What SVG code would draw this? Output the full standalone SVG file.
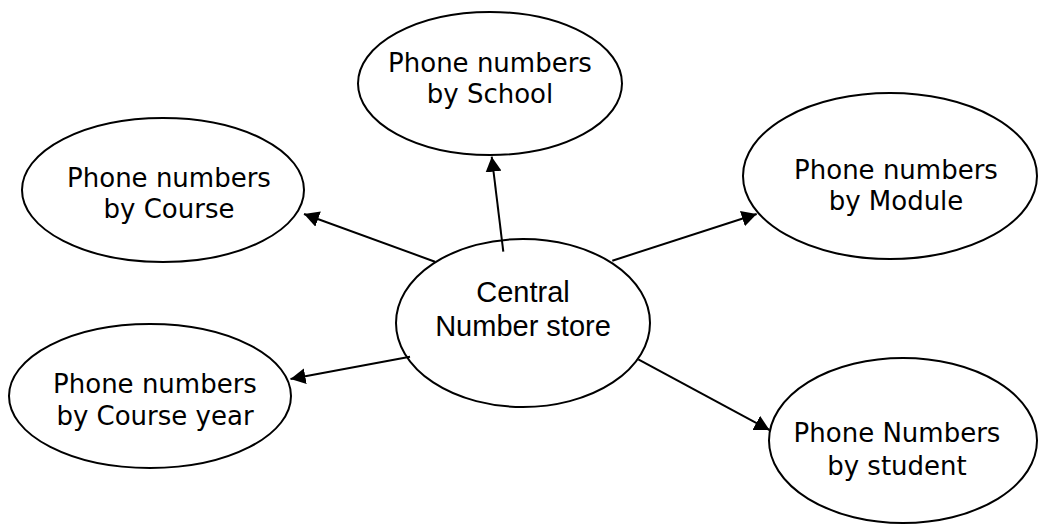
<svg xmlns="http://www.w3.org/2000/svg" width="1039" height="524" viewBox="0 0 1039 524">
<style>
.node ellipse{fill:#fff;stroke:#000;stroke-width:2}
.lbl{font-family:"DejaVu Sans",Verdana,sans-serif;font-size:26px;fill:#000;text-anchor:middle}
.clbl{font-family:"Liberation Sans",Arial,sans-serif;font-size:29px;fill:#000;text-anchor:middle}
.conn line{stroke:#000;stroke-width:2;marker-end:url(#arr)}
</style>
<defs>
<marker id="arr" viewBox="0 0 15 16" refX="15" refY="8" markerWidth="15" markerHeight="16" markerUnits="userSpaceOnUse" orient="auto">
<path d="M0,0 L15,8 L0,16 z" fill="#000"/>
</marker>
</defs>
<rect width="1039" height="524" fill="#fff"/>
<g id="school" class="node">
<ellipse cx="490" cy="83.5" rx="132" ry="71.5"/>
<text class="lbl" x="490" y="72">Phone numbers</text>
<text class="lbl" x="490" y="103">by School</text>
</g>
<g id="course" class="node">
<ellipse cx="163" cy="190" rx="141" ry="72"/>
<text class="lbl" x="169" y="187">Phone numbers</text>
<text class="lbl" x="169" y="218">by Course</text>
</g>
<g id="module" class="node">
<ellipse cx="890" cy="176" rx="147" ry="83"/>
<text class="lbl" x="896" y="179">Phone numbers</text>
<text class="lbl" x="896" y="210">by Module</text>
</g>
<g id="courseyear" class="node">
<ellipse cx="150" cy="396" rx="141" ry="72"/>
<text class="lbl" x="155" y="393">Phone numbers</text>
<text class="lbl" x="155" y="425">by Course year</text>
</g>
<g id="student" class="node">
<ellipse cx="903" cy="440.5" rx="134" ry="82.5"/>
<text class="lbl" x="897" y="442">Phone Numbers</text>
<text class="lbl" x="897" y="475">by student</text>
</g>
<g id="central" class="node">
<ellipse cx="523" cy="323" rx="127" ry="84"/>
<text class="clbl" x="523" y="302">Central</text>
<text class="clbl" x="523" y="336">Number store</text>
</g>
<g id="connectors" class="conn">
<line x1="503.3" y1="251.7" x2="491.7" y2="156.7"/>
<line x1="435" y1="261.7" x2="304" y2="214"/>
<line x1="612.3" y1="260.7" x2="756.7" y2="214"/>
<line x1="410" y1="356.7" x2="290.5" y2="379"/>
<line x1="638.3" y1="359.3" x2="769.5" y2="430"/>
</g>
</svg>
